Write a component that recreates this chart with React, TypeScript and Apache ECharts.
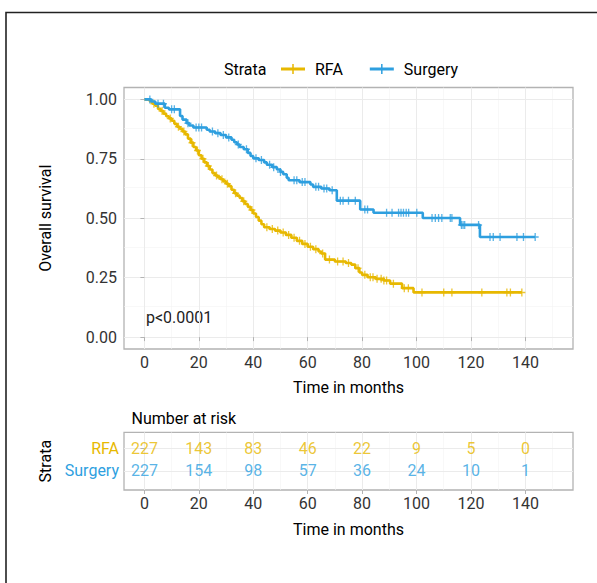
import React, { useEffect, useRef } from 'react';
import * as echarts from 'echarts';

const FONT = "Roboto, 'Liberation Sans', sans-serif";
const FS = 16;

const strata = ['RFA', 'Surgery'];
const strataColors = ['#E7B800', '#2E9FDF'];

// Kaplan-Meier steps (time in months, survival after the step)
const rfaTime = [0, 2, 3, 4, 5, 6, 7, 8, 9, 10, 11, 12, 13, 14, 15, 16, 17, 18, 19, 20, 21, 22, 23, 24, 25, 26, 27, 28, 29, 30, 31, 32, 33, 34, 35, 36, 37, 38, 39, 40, 41, 42, 43, 44, 46, 48, 50, 52, 54, 56, 58, 60, 62, 64, 65, 66.4, 70, 74, 76, 77.5, 79, 80, 82, 85, 88, 90.3, 94.7, 98.9, 138.7];
const rfaSurv = [1, 0.991, 0.982, 0.973, 0.96, 0.951, 0.94, 0.929, 0.92, 0.91, 0.897, 0.885, 0.876, 0.865, 0.853, 0.835, 0.818, 0.8, 0.785, 0.765, 0.75, 0.735, 0.72, 0.705, 0.69, 0.68, 0.672, 0.664, 0.655, 0.645, 0.635, 0.62, 0.605, 0.595, 0.585, 0.572, 0.56, 0.548, 0.535, 0.52, 0.505, 0.49, 0.475, 0.462, 0.455, 0.448, 0.44, 0.43, 0.418, 0.405, 0.392, 0.38, 0.37, 0.36, 0.352, 0.326, 0.318, 0.312, 0.305, 0.29, 0.272, 0.262, 0.252, 0.245, 0.238, 0.225, 0.206, 0.188, 0.188];
const rfaCensor = [3.5, 6.5, 9.5, 12.5, 14.5, 17.5, 19.5, 21.5, 23.5, 26.5, 28.5, 30.5, 33.5, 36.5, 39.5, 45, 47, 49, 51, 53, 55, 57, 59, 61, 63, 65.5, 68, 71, 73, 75, 78.5, 81, 83, 84, 85.5, 87, 88, 89, 91.5, 95.5, 97, 102, 110, 113, 124, 133.2, 134.5, 138.7];

const surgTime = [0, 2.5, 4, 7.5, 9, 13.1, 14, 15.5, 16.5, 18, 22.9, 24, 26, 28, 30, 32, 33, 34, 35, 36.5, 38, 39, 40, 42, 44, 45, 47, 48.7, 50, 51, 52.3, 53, 57, 61, 62, 65, 68, 70.7, 79.3, 84.2, 102.3, 116, 123.3, 143.6];
const surgSurv = [1, 0.991, 0.982, 0.965, 0.958, 0.93, 0.915, 0.9, 0.89, 0.882, 0.872, 0.865, 0.858, 0.85, 0.84, 0.83, 0.82, 0.81, 0.8, 0.79, 0.775, 0.762, 0.752, 0.745, 0.735, 0.725, 0.715, 0.705, 0.695, 0.685, 0.67, 0.66, 0.652, 0.642, 0.632, 0.625, 0.618, 0.574, 0.537, 0.523, 0.501, 0.472, 0.421, 0.421];
const surgCensor = [2, 5, 7, 10, 11, 16, 19, 20, 21, 25, 27, 29, 31, 34.5, 37.5, 41, 43, 46, 47.5, 50, 55, 56, 58, 59, 63, 64, 66, 67, 69, 72, 73, 75, 77.5, 81, 82, 89, 91, 93.4, 94.3, 95.2, 96.2, 97.1, 100.1, 105.7, 106.9, 108.1, 109.3, 112.4, 113, 116.5, 117.1, 117.7, 122.8, 127, 128.2, 130.7, 136.9, 139.3, 143.6];

// Number at risk
const riskTimes = [0, 20, 40, 60, 80, 100, 120, 140];
const rfaRisk = [227, 143, 83, 46, 22, 9, 5, 0];
const surgRisk = [227, 154, 98, 57, 36, 24, 10, 1];

// ticks / grid lines
const xMajor = [0, 20, 40, 60, 80, 100, 120, 140];
const xMinor = [10, 30, 50, 70, 90, 110, 130, 150];
const yMajor = [0, 0.25, 0.5, 0.75, 1];
const yMinor = [0.125, 0.375, 0.625, 0.875];
const riskRows = [1, 2]; // 1 = Surgery, 2 = RFA

const pText = 'p<0.0001';

function survAt(times: number[], surv: number[], t: number) {
  let s = surv[0];
  for (let i = 0; i < times.length; i++) {
    if (times[i] <= t) s = surv[i];
    else break;
  }
  return s;
}

const LEGEND_ICON = 'path://M0,3.5H24V6.5H0Z M11.25,0H12.75V10H11.25Z';
const CENSOR = 'path://M3.25,0H4.75V8H3.25Z M0,3.25H8V4.75H0Z';

function gridLineSeries(gridIdx: number, xs: number[], xsMinor: number[], ys: number[], ysMinor: number[]) {
  const major = { color: '#EBEBEB', width: 1, type: 'solid' };
  const minor = { color: '#F3F3F3', width: 0.6, type: 'solid' };
  return {
    type: 'line',
    xAxisIndex: gridIdx,
    yAxisIndex: gridIdx,
    data: [],
    silent: true,
    z: 0,
    markLine: {
      silent: true,
      z: 0,
      symbol: 'none',
      label: { show: false },
      animation: false,
      data: [
        ...xsMinor.map((v) => ({ xAxis: v, lineStyle: minor })),
        ...ysMinor.map((v) => ({ yAxis: v, lineStyle: minor })),
        ...xs.map((v) => ({ xAxis: v, lineStyle: major })),
        ...ys.map((v) => ({ yAxis: v, lineStyle: major })),
      ],
    },
  };
}

function xAxisFor(gridIndex: number, nameGap: number) {
  return {
    type: 'value',
    gridIndex,
    min: -7.5,
    max: 157.5,
    name: 'Time in months',
    nameLocation: 'middle',
    nameGap,
    nameMoveOverlap: false,
    nameTextStyle: { fontSize: FS, fontFamily: FONT, color: '#000' },
    axisLine: { show: false },
    splitLine: { show: false },
    axisTick: { show: true, customValues: xMajor, length: 4, lineStyle: { color: '#B3B3B3', width: 1 } },
    axisLabel: { customValues: xMajor, fontSize: FS, fontFamily: FONT, color: '#333', margin: 5 },
  };
}

export default function App() {
  const ref = useRef<HTMLDivElement>(null);

  useEffect(() => {
    if (!ref.current) return;
    const chart = echarts.init(ref.current, null, { renderer: 'svg' });

    const rfaLine = rfaTime.map((t, i) => [t, rfaSurv[i]]);
    const surgLine = surgTime.map((t, i) => [t, surgSurv[i]]);
    const rfaMarks = rfaCensor.map((t) => [t, survAt(rfaTime, rfaSurv, t)]);
    const surgMarks = surgCensor.map((t) => [t, survAt(surgTime, surgSurv, t)]);

    const option: any = {
      animation: false,
      backgroundColor: '#fff',
      textStyle: { fontFamily: FONT },
      legend: {
        data: strata,
        left: 281,
        top: 61,
        padding: 0,
        itemWidth: 24,
        itemHeight: 10,
        itemGap: 27,
        icon: LEGEND_ICON,
        textStyle: { fontSize: FS, fontFamily: FONT, color: '#000', padding: [0, 0, 0, 5] },
        selectedMode: false,
      },
      grid: [
        { left: 124, top: 87.5, width: 449, height: 261.5, show: true, borderColor: '#B3B3B3', borderWidth: 1.3, backgroundColor: 'transparent', outerBoundsMode: 'none', containLabel: false },
        { left: 124, top: 432.3, width: 449, height: 57.7, show: true, borderColor: '#B3B3B3', borderWidth: 1.3, backgroundColor: 'transparent', outerBoundsMode: 'none', containLabel: false },
      ],
      xAxis: [xAxisFor(0, 30), xAxisFor(1, 31)],
      yAxis: [
        {
          type: 'value',
          gridIndex: 0,
          min: -0.05,
          max: 1.05,
          name: 'Overall survival',
          nameLocation: 'middle',
          nameGap: 71,
          nameMoveOverlap: false,
          nameTextStyle: { fontSize: FS, fontFamily: FONT, color: '#000' },
          axisLine: { show: false },
          splitLine: { show: false },
          axisTick: { show: true, customValues: yMajor, length: 4, lineStyle: { color: '#B3B3B3', width: 1 } },
          axisLabel: { customValues: yMajor, fontSize: FS, fontFamily: FONT, color: '#333', margin: 7, formatter: (v: number) => v.toFixed(2) },
        },
        {
          type: 'value',
          gridIndex: 1,
          min: 0.15,
          max: 2.7,
          name: 'Strata',
          nameLocation: 'middle',
          nameGap: 71,
          nameMoveOverlap: false,
          nameTextStyle: { fontSize: FS, fontFamily: FONT, color: '#000' },
          axisLine: { show: false },
          splitLine: { show: false },
          axisTick: { show: true, customValues: riskRows, length: 4, lineStyle: { color: '#B3B3B3', width: 1 } },
          axisLabel: {
            customValues: riskRows,
            fontSize: FS,
            fontFamily: FONT,
            margin: 5,
            formatter: (v: number) => (v === 2 ? strata[0] : strata[1]),
            color: (v: any) => (Number(v) === 2 ? strataColors[0] : strataColors[1]),
          },
        },
      ],
      graphic: [
        { type: 'polyline', silent: true, shape: { points: [[600, 12.5], [6, 12.5], [6, 590]] }, style: { stroke: '#222', lineWidth: 1.6, fill: null } },
        { type: 'text', x: 224, y: 69, style: { text: 'Strata', fontSize: FS, fontFamily: FONT, fill: '#000', verticalAlign: 'middle', align: 'left' } },
        { type: 'text', x: 146, y: 317, style: { text: pText, fontSize: FS, fontFamily: FONT, fill: '#222', verticalAlign: 'middle', align: 'left' } },
        { type: 'text', x: 131.5, y: 418, style: { text: 'Number at risk', fontSize: FS, fontFamily: FONT, fill: '#000', verticalAlign: 'middle', align: 'left' } },
      ],
      series: [
        gridLineSeries(0, xMajor, xMinor, yMajor, yMinor),
        gridLineSeries(1, xMajor, xMinor, riskRows, []),
        {
          name: strata[0], type: 'line', step: 'end', data: rfaLine, showSymbol: false, symbol: 'none',
          lineStyle: { color: strataColors[0], width: 2.6 }, itemStyle: { color: strataColors[0] }, z: 3,
        },
        {
          name: strata[1], type: 'line', step: 'end', data: surgLine, showSymbol: false, symbol: 'none',
          lineStyle: { color: strataColors[1], width: 2.6 }, itemStyle: { color: strataColors[1] }, z: 4,
        },
        { name: 'RFA censored', type: 'scatter', data: rfaMarks, symbol: CENSOR, symbolSize: [7, 8], itemStyle: { color: strataColors[0] }, z: 3 },
        { name: 'Surgery censored', type: 'scatter', data: surgMarks, symbol: CENSOR, symbolSize: [7, 8], itemStyle: { color: strataColors[1] }, z: 4 },
        {
          name: 'RFA at risk', type: 'scatter', xAxisIndex: 1, yAxisIndex: 1, z: 5,
          data: riskTimes.map((t, i) => [t, 2, rfaRisk[i]]),
          symbolSize: 1, itemStyle: { color: 'rgba(0,0,0,0)' },
          label: { show: true, position: 'inside', formatter: (p: any) => String(p.value[2]), fontSize: FS, fontFamily: FONT, color: strataColors[0] },
        },
        {
          name: 'Surgery at risk', type: 'scatter', xAxisIndex: 1, yAxisIndex: 1, z: 5,
          data: riskTimes.map((t, i) => [t, 1, surgRisk[i]]),
          symbolSize: 1, itemStyle: { color: 'rgba(0,0,0,0)' },
          label: { show: true, position: 'inside', formatter: (p: any) => String(p.value[2]), fontSize: FS, fontFamily: FONT, color: strataColors[1] },
        },
      ],
    };

    chart.setOption(option);
    return () => chart.dispose();
  }, []);

  return (
    <div
      ref={ref}
      style={{ position: 'fixed', left: 0, top: 0, width: 597, height: 583, background: '#fff' }}
    />
  );
}
